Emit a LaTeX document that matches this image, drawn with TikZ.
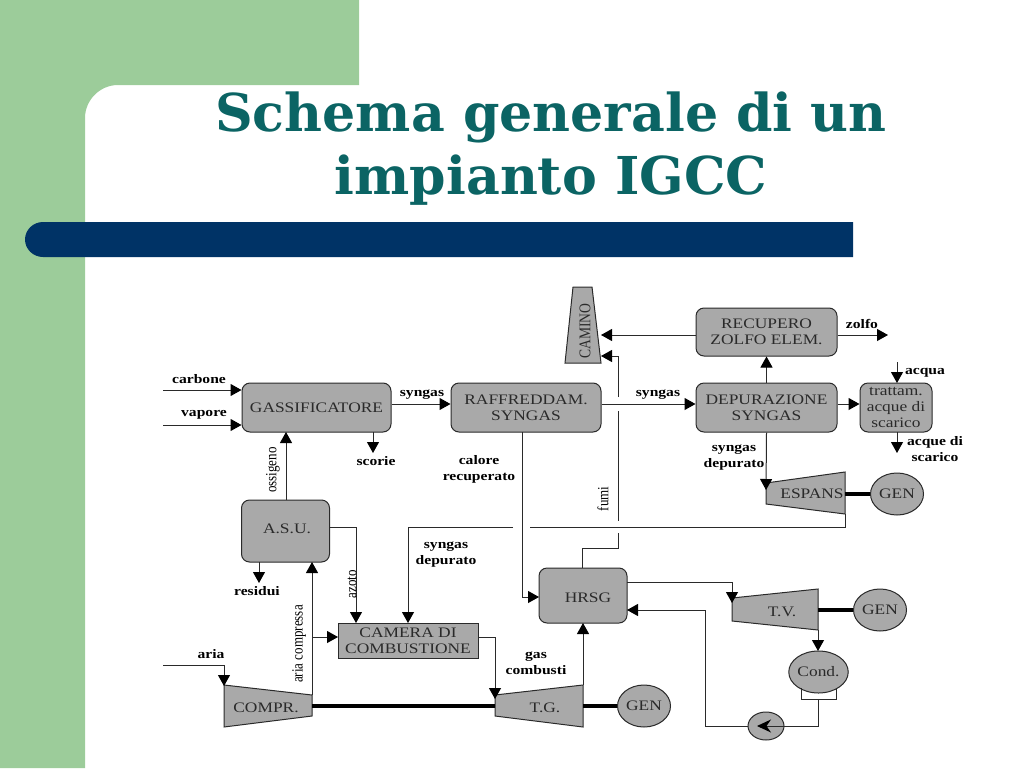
\documentclass[tikz,border=0pt]{standalone}
\usepackage{fontspec}
\usetikzlibrary{arrows.meta}
\usetikzlibrary{shapes.geometric}
\newfontfamily\lblfont[FakeStretch=1.2]{Liberation Serif}
\newfontfamily\rotfont{Liberation Serif}
\newfontfamily\titlefont{DejaVu Serif}
\definecolor{sidegreen}{HTML}{9CCC9A}
\definecolor{barblue}{HTML}{003366}
\definecolor{titleteal}{HTML}{0B6464}
\definecolor{unitgray}{HTML}{A9A9A9}
\definecolor{inkgray}{HTML}{2A2A2A}
\tikzset{
  body/.style={draw=inkgray, fill=unitgray, line width=1pt},
  unit/.style={body, inner sep=0pt, align=center, text=inkgray,
    font=\lblfont\fontsize{14.5}{16.3}\selectfont},
  block/.style={unit, rounded corners=8pt},
  machine/.style={unit, ellipse},
  lbl/.style={inner sep=0pt, align=center, text=black,
    font=\lblfont\fontsize{13}{16}\selectfont\bfseries},
  vlbl/.style={inner sep=0pt, transform shape, rotate=90, yscale=1.2, text=black, font=\rotfont\fontsize{13}{16}\selectfont},
  unitlbl/.style={inner sep=0pt, align=center, text=inkgray, font=\lblfont\fontsize{14.5}{16.3}\selectfont},
  flow/.style={draw=inkgray, line width=1pt},
  shaft/.style={draw=black, line width=4pt}
}
\begin{document}
\begin{tikzpicture}[x=1pt, y=-1pt, >={Triangle[length=11pt,width=12pt,color=black]}]
\useasboundingbox (0,0) rectangle (1024,768);
% slide background
\fill[sidegreen] (0,0) -- (359,0) -- (359,85) -- (118,85) .. controls (100,85) and (85,100) .. (85,118) -- (85,768) -- (0,768) -- cycle;
\fill[barblue] (853,222) -- (43,222) .. controls (33,222) and (25,230) .. (25,239.5) .. controls (25,249) and (33,257) .. (43,257) -- (853,257) -- cycle;
\node[inner sep=0pt, align=center, text=titleteal, font=\titlefont\bfseries\fontsize{52.2}{63}\selectfont] (title) at (551,149) {Schema generale di un\\impianto IGCC};

% process blocks
\node[block, minimum width=149pt, minimum height=49pt] (gass) at (316.5,407.5) {GASSIFICATORE};
\node[block, minimum width=150pt, minimum height=49pt] (raff) at (526,407.5) {RAFFREDDAM.\\SYNGAS};
\node[block, minimum width=141pt, minimum height=49pt] (depu) at (766.5,407.5) {DEPURAZIONE\\SYNGAS};
\node[block, minimum width=141pt, minimum height=48pt] (recu) at (766.5,332) {RECUPERO\\ZOLFO ELEM.};
\node[block, minimum width=72pt, minimum height=49pt] (tratt) at (896,407.5) {trattam.\\acque di\\scarico};
\node[block, minimum width=88pt, minimum height=62pt] (asu) at (285.5,531) {};
\node[block, minimum width=88pt, minimum height=55pt] (hrsg) at (583,595.5) {};
\node[unit, minimum width=140pt, minimum height=35pt] (came) at (408,640.5) {CAMERA DI\\COMBUSTIONE};
\node[unitlbl] (asulbl) at (287,529) {A.S.U.};
\node[unitlbl] (hrsglbl) at (588,598) {HRSG};

% turbines, compressor and stack
\draw[body] (224,685) -- (312,695) -- (312,716) -- (224,727) -- cycle;
\draw[body] (495,695) -- (583,685) -- (583,727) -- (495,716) -- cycle;
\draw[body] (732,598) -- (818,589) -- (818,630) -- (732,621) -- cycle;
\draw[body] (766,483) -- (845,472) -- (845,514) -- (766,504) -- cycle;
\draw[body] (573,287) -- (592,287) -- (601,363) -- (565,363) -- cycle;
\node[unitlbl] (comp) at (266,708) {COMPR.};
\node[unitlbl] (tg) at (545,708) {T.G.};
\node[unitlbl] (tv) at (782,612) {T.V.};
\node[unitlbl] (espa) at (812,494) {ESPANS};
\node[vlbl, text=inkgray, font=\rotfont\fontsize{13.6}{16}\selectfont] (cami) at (585,331) {CAMINO};

% generators, condenser, pump
\foreach \pos/\name in {{897,494}/gena, {880,610}/genb, {644,706}/genc}
  { \node[machine, minimum width=53pt, minimum height=42pt] (\name) at (\pos) {GEN}; }
\node[machine, minimum width=53pt, minimum height=42pt] (cond) at (818.5,672) {Cond.};
\node[machine, minimum width=36pt, minimum height=28pt] (pump) at (766,726) {};
\draw[flow, -{Stealth[length=14pt,width=13pt,color=black]}] (pump.east) -- (757,726);
\draw[shaft] (845,494) -- (gena.west);
\draw[shaft] (818,610) -- (genb.west);
\draw[shaft] (583,706) -- (genc.west);
\draw[shaft] (312,706) -- (495,706);

% connectors
\coordinate (carbin) at (163,390);
\coordinate (vapin) at (163,425);
\coordinate (ariain) at (163,665);
\draw[flow, ->] (carbin) -- (gass.west |- carbin);
\draw[flow, ->] (vapin) -- (gass.west |- vapin);
\draw[flow, ->] (gass.east |- 0,404) -- (raff.west |- 0,404);
\draw[flow, ->] (373,432) -- (373,453);
\draw[flow, ->] (286,500) -- (286,432);
\draw[flow, ->] (raff.east |- 0,404) -- (depu.west |- 0,404);
\draw[flow, ->] (depu.east |- 0,404) -- (tratt.west |- 0,404);
\draw[flow, ->] (depu.north) -- (recu.south);
\draw[flow, ->] (recu.west |- 0,335) -- (601,335);
\draw[flow, ->] (recu.east |- 0,335) -- (888,335);
\draw[flow, ->] (897,362) -- (897,383);
\draw[flow, ->] (897,432) -- (897,453);
\draw[flow, ->] (depu.south) -- (766,490);
\draw[flow, ->] (522,432) -- (522,597) -- (539,597);
\draw[flow, ->] (330,527) -- (356,527) -- (356,623);
\draw[flow] (845,514) -- (845,527) -- (530,527);
\draw[flow, ->] (513,527) -- (408,527) -- (408,623);
\draw[flow, ->] (618,397) -- (618,356) -- (601,356);
\draw[flow] (618,411) -- (618,521);
\draw[flow] (618,533) -- (618,548) -- (582,548) -- (582,568);
\draw[flow, ->] (312,695) -- (312,562);
\draw[flow, ->] (312,637) -- (338,637);
\draw[flow, ->] (259,562) -- (259,583);
\draw[flow, ->] (ariain) -- (224,665) -- (224,686);
\draw[flow, ->] (478,637) -- (495,637) -- (495,699);
\draw[flow, ->] (583,685) -- (583,623);
\draw[flow, ->] (627,582) -- (732,582) -- (732,603);
\draw[flow, ->] (818,630) -- (818,651);
\draw[flow] (801,688) -- (801,699) -- (836,699) -- (836,688);
\draw[flow] (818,699) -- (818,726) -- (pump.east);
\draw[flow, ->] (pump.west) -- (705,726) -- (705,610) -- (627,610);

% labels
\node[lbl] (lcarb) at (199,379) {carbone};
\node[lbl] (lvap) at (204,415) {vapore};
\node[lbl] (lsyna) at (422,395) {syngas};
\node[lbl] (lsco) at (376,461) {scorie};
\node[lbl] (lcal) at (479,469) {calore\\recuperato};
\node[lbl] (lsynb) at (658,395) {syngas};
\node[lbl] (lzol) at (862,324) {zolfo};
\node[lbl] (lacq) at (925,373) {acqua};
\node[lbl] (lsca) at (935,449) {acque di\\scarico};
\node[lbl] (ldepa) at (734,457.5) {syngas\\depurato};
\node[lbl] (lres) at (257,591) {residui};
\node[lbl] (ldepb) at (446,555) {syngas\\depurato};
\node[lbl] (lari) at (211,654) {aria};
\node[lbl] (lgas) at (536,663.5) {gas\\combusti};
\node[vlbl] (loss) at (273,470) {ossigeno};
\node[vlbl] (lazo) at (352,584) {azoto};
\node[vlbl] (lcom) at (299,644) {aria compressa};
\node[vlbl] (lfum) at (603,499) {fumi};
\end{tikzpicture}
\end{document}
